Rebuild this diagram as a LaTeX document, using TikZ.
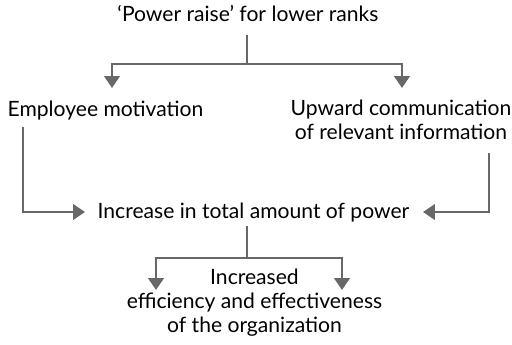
\documentclass[tikz,border=0pt]{standalone}
\usepackage{fontspec}
\setmainfont{Lato}
\usepackage{xcolor}
\usetikzlibrary{arrows.meta, positioning}

\definecolor{linegray}{HTML}{686868}

\begin{document}
\begin{tikzpicture}[
    x=0.025cm, y=-0.025cm,
    label/.style={inner sep=0pt, align=center, anchor=base, font=\fontsize{15}{17}\selectfont},
    arrow/.style={-{Triangle[width=11pt,length=8.5pt]}, line width=1.9pt, draw=linegray},
    joint/.style={line width=1.9pt, draw=linegray}
]
\useasboundingbox (0,0) rectangle (512,344);

% Nodes (base = baseline of the last line)
\node (power) [label] at (248,21) {`Power raise' for lower ranks};
\node (motiv) [label] at (105.5,116) {Employee motivation};
\node (upward) [label] at (401,139) {Upward communication\\of relevant information};
\node (increase) [label] at (253.5,218) {Increase in total amount of power};
\node (result) [label] at (254.5,332) {Increased\\efficiency and effectiveness\\of the organization};

% Branch points and free ends
\coordinate (topdrop) at (247,35);
\coordinate (split) at (247,64);
\coordinate (motivtip) at (112,88);
\coordinate (upwardtip) at (402,88);
\coordinate (motivdrop) at (23,127);
\coordinate (upwarddrop) at (489,153);
\coordinate (lefttip) at (85,212);
\coordinate (righttip) at (423,212);
\coordinate (middrop) at (247,226);
\coordinate (merge) at (247,258);
\coordinate (resleft) at (156,290);
\coordinate (resright) at (342,290);

% Paths
\draw [joint] (topdrop) -- (split);
\draw [arrow] (split) -| (motivtip);
\draw [arrow] (split) -| (upwardtip);
\draw [arrow] (motivdrop) |- (lefttip);
\draw [arrow] (upwarddrop) |- (righttip);
\draw [joint] (middrop) -- (merge);
\draw [arrow] (merge) -| (resleft);
\draw [arrow] (merge) -| (resright);

\end{tikzpicture}
\end{document}
